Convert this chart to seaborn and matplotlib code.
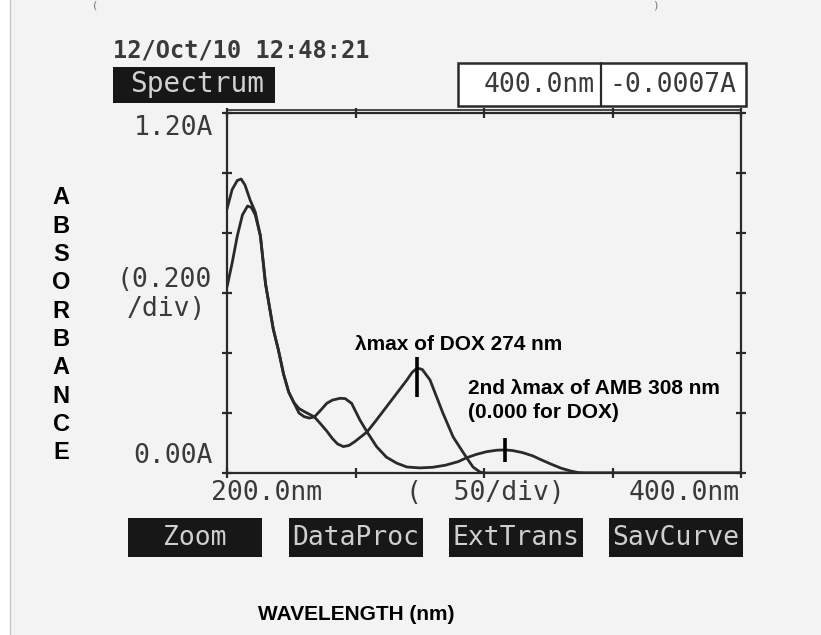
import matplotlib
matplotlib.use("Agg")
import matplotlib.pyplot as plt
import numpy as np
import pandas as pd
import seaborn as sns
from matplotlib.patches import Rectangle
from matplotlib.lines import Line2D

# ---- spectra (wavelength in nm, absorbance in A) ----
amb_wl = [200, 202, 204, 205.5, 207, 209, 211, 213, 214, 215, 216, 217, 218, 220,
          222, 224, 226, 228, 230, 232, 234, 236, 238.8, 241, 244, 246, 248.5,
          251.7, 254.5, 258.2, 262, 266, 270, 275, 280, 285, 290, 293, 297, 301,
          305, 308, 311, 315, 319, 322, 326, 330, 334, 337, 340, 370, 400]
amb_abs = [0.88, 0.945, 0.975, 0.98, 0.96, 0.91, 0.87, 0.79, 0.71, 0.63, 0.58, 0.53,
           0.48, 0.41, 0.33, 0.27, 0.235, 0.20, 0.188, 0.183, 0.187, 0.205, 0.232,
           0.243, 0.249, 0.248, 0.232, 0.177, 0.137, 0.088, 0.053, 0.033, 0.02,
           0.017, 0.019, 0.026, 0.038, 0.05, 0.062, 0.071, 0.076, 0.077, 0.075,
           0.068, 0.057, 0.045, 0.03, 0.016, 0.006, 0.001, 0.0, 0.0, 0.0]

dox_wl = [200, 202, 204, 206, 208, 209.5, 211, 213, 214, 215, 216, 217, 218, 220,
          222, 224, 226, 228, 230, 232, 234, 236, 238.8, 241, 243, 245.3, 247.5,
          249.8, 252, 254.5, 258, 262, 266, 270, 272, 274, 276, 279, 284, 288, 292,
          295.7, 298.5, 300, 350, 400]
dox_abs = [0.62, 0.70, 0.79, 0.86, 0.89, 0.885, 0.86, 0.79, 0.71, 0.63, 0.58, 0.53,
           0.48, 0.41, 0.33, 0.27, 0.235, 0.215, 0.205, 0.196, 0.187, 0.168, 0.14,
           0.115, 0.097, 0.088, 0.092, 0.105, 0.12, 0.137, 0.175, 0.22, 0.265, 0.31,
           0.335, 0.35, 0.345, 0.31, 0.2, 0.12, 0.067, 0.02, 0.003, 0.0, 0.0, 0.0]

# annotated maxima: (wavelength, lower A, upper A) of the cursor ticks
dox_peak = (274, 0.253, 0.387)
amb_peak = (308, 0.037, 0.117)

y_ticks = [0.0, 0.2, 0.4, 0.6, 0.8, 1.0, 1.2]
x_ticks = [200, 250, 300, 350, 400]

df = pd.concat([
    pd.DataFrame({"wavelength": amb_wl, "absorbance": amb_abs, "sample": "AMB"}),
    pd.DataFrame({"wavelength": dox_wl, "absorbance": dox_abs, "sample": "DOX"}),
])

W, H = 821, 635
sns.set_style("white")
plt.rcParams["font.family"] = ["DejaVu Sans"]

fig = plt.figure(figsize=(W / 100, H / 100), dpi=100)
fig.patch.set_facecolor("white")


def fx(x):
    return x / W


def fy(y):
    return 1 - y / H


# paper background to the right of the scan edge
fig.add_artist(Rectangle((fx(10), 0), 1 - fx(10), 1, transform=fig.transFigure,
                         facecolor="#f3f3f3", edgecolor="none", zorder=-5))
fig.add_artist(Line2D([fx(10), fx(10)], [0, 1], transform=fig.transFigure,
                      color="#c8c8c8", lw=1.0))
# small bracket marks along the top edge
fig.text(fx(95), fy(6), "(", fontsize=8, color="#777777", ha="center", va="center")
fig.text(fx(655), fy(6), ")", fontsize=8, color="#777777", ha="center", va="center")

ink = "#2a2a2a"
lcd = "#3a3a3a"
mono = "DejaVu Sans Mono"

ax = fig.add_axes([fx(227), fy(473), fx(741) - fx(227), fy(113) - fy(473)])
ax.set_facecolor("#f3f3f3")
sns.lineplot(data=df, x="wavelength", y="absorbance", hue="sample",
             palette=[ink, ink], legend=False, lw=2.0, ax=ax, estimator=None)
ax.set_xlim(200, 400)
ax.set_ylim(0, 1.2)
ax.set_xticks(x_ticks)
ax.set_yticks(y_ticks)
ax.tick_params(which="both", direction="inout", length=7, width=1.6, color=ink,
               top=True, right=True, bottom=True, left=True,
               labelleft=False, labelbottom=False)
ax.set_xlabel("")
ax.set_ylabel("")
for sp in ax.spines.values():
    sp.set_color(ink)
    sp.set_linewidth(1.6)

# second rule along the top of the frame
fig.add_artist(Line2D([fx(227), fx(741)], [fy(110), fy(110)],
                      transform=fig.transFigure, color=ink, lw=1.2))

# cursor ticks at the annotated maxima
for wl, lo, hi in (dox_peak, amb_peak):
    ax.vlines(wl, lo, hi, color="black", lw=2.6)

ann = dict(fontfamily="Liberation Sans", fontweight="bold", fontsize=15,
           color="black", va="center", ha="left")
fig.text(fx(355), fy(344), f"\u03bbmax of DOX {dox_peak[0]} nm", **ann)
fig.text(fx(468), fy(388), f"2nd \u03bbmax of AMB {amb_peak[0]} nm", **ann)
fig.text(fx(468), fy(413), "(0.000 for DOX)", **ann)

# instrument header
fig.text(fx(113), fy(50), "12/Oct/10 12:48:21", family=mono, fontsize=17,
         color=lcd, va="center", ha="left", fontweight="bold")
fig.add_artist(Rectangle((fx(113), fy(103)), fx(275) - fx(113), fy(67) - fy(103),
                         transform=fig.transFigure, facecolor="#171717",
                         edgecolor="none"))
fig.text(fx(197), fy(84), "Spectrum", family=mono, fontsize=20, color="#d2d2d2",
         va="center", ha="center")

fig.add_artist(Rectangle((fx(458), fy(106)), fx(746) - fx(458), fy(63) - fy(106),
                         transform=fig.transFigure, facecolor="white",
                         edgecolor=ink, lw=1.8))
fig.add_artist(Line2D([fx(601), fx(601)], [fy(106), fy(63)],
                      transform=fig.transFigure, color=ink, lw=1.6))
fig.text(fx(539), fy(85), "400.0nm", family=mono, fontsize=19, color=lcd,
         va="center", ha="center")
fig.text(fx(673), fy(85), "-0.0007A", family=mono, fontsize=19, color=lcd,
         va="center", ha="center")

# axis scale labels
lab = dict(family=mono, fontsize=19, color=lcd, va="center")
fig.text(fx(213), fy(128), "1.20A", ha="right", **lab)
fig.text(fx(164), fy(280), "(0.200", ha="center", **lab)
fig.text(fx(166), fy(309), "/div)", ha="center", **lab)
fig.text(fx(213), fy(456), "0.00A", ha="right", **lab)
fig.text(fx(267), fy(493), "200.0nm", ha="center", **lab)
fig.text(fx(485), fy(493), "(  50/div)", ha="center", **lab)
fig.text(fx(684), fy(493), "400.0nm", ha="center", **lab)

# soft-key buttons
buttons = ["Zoom", "DataProc", "ExtTrans", "SavCurve"]
btn_x = [(128, 262), (289, 423), (449, 583), (609, 743)]
for name, (x0, x1) in zip(buttons, btn_x):
    fig.add_artist(Rectangle((fx(x0), fy(557)), fx(x1) - fx(x0), fy(518) - fy(557),
                             transform=fig.transFigure, facecolor="#171717",
                             edgecolor="none"))
    fig.text(fx((x0 + x1) / 2), fy(538), name, family=mono, fontsize=19,
             color="#cfcfcf", va="center", ha="center")

# axis titles
for i, ch in enumerate("ABSORBANCE"):
    fig.text(fx(61), fy(198 + 28.3 * i), ch, fontfamily="Liberation Sans",
             fontweight="bold", fontsize=17, color="black", ha="center", va="center")
fig.text(fx(356), fy(615), "WAVELENGTH (nm)", fontfamily="Liberation Sans",
         fontweight="bold", fontsize=15, color="black", ha="center", va="center")

fig.savefig("out.png", dpi=100)
